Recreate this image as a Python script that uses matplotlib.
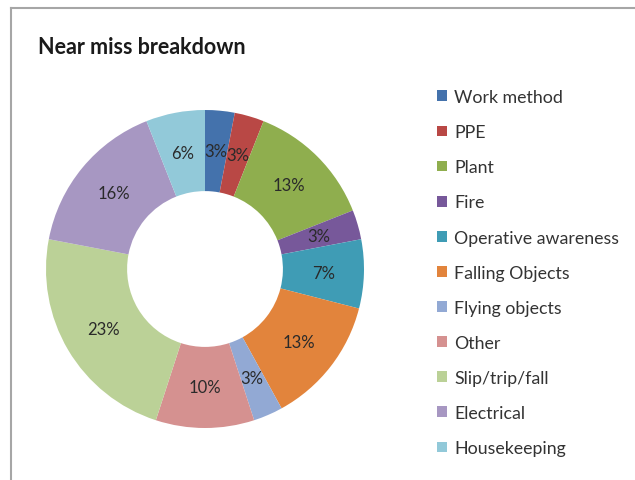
import matplotlib.pyplot as plt
from matplotlib.lines import Line2D
from matplotlib.patches import Patch

categories = ["Work method", "PPE", "Plant", "Fire", "Operative awareness",
              "Falling Objects", "Flying objects", "Other", "Slip/trip/fall",
              "Electrical", "Housekeeping"]
values = [3, 3, 13, 3, 7, 13, 3, 10, 23, 16, 6]
colors = ["#4472AC", "#B94845", "#8FAE4E", "#77589A", "#3F9CB5",
          "#E2843C", "#92A9D4", "#D59190", "#BBD197", "#A797C2", "#92C9D9"]

plt.rcParams["font.family"] = ["Lato", "DejaVu Sans"]

W, H = 635, 481
fig = plt.figure(figsize=(W / 100, H / 100), dpi=100)

# donut centred at (205, 270) px, outer radius ~159 px
cx, cy, r = 205, 270, 159
ax = fig.add_axes([(cx - r) / W, (H - cy - r) / H, 2 * r / W, 2 * r / H])
wedges, _, autotexts = ax.pie(
    values, colors=colors, startangle=90, counterclock=False,
    autopct=lambda p: f"{p:.0f}%", pctdistance=0.745,
    wedgeprops=dict(width=0.51, edgecolor="none"),
    textprops=dict(fontsize=12, color="#2a2a2a"))
ax.set_xlim(-1, 1)
ax.set_ylim(-1, 1)
ax.set_aspect("equal")
ax.axis("off")

fig.text(38 / W, 1 - 48 / H, "Near miss breakdown", fontsize=15.5,
         fontweight="bold", color="#1a1a1a", va="center", ha="left")

handles = [Patch(facecolor=c, edgecolor="none") for c in colors]
fig.legend(handles, categories, loc="upper left",
           bbox_to_anchor=(430 / W, 1 - 83 / H), frameon=False,
           fontsize=12.8, handlelength=0.55, handleheight=0.55,
           handletextpad=0.4, labelspacing=1.075, borderaxespad=0,
           labelcolor="#333333")

# chart frame (left and top edges visible)
fig.add_artist(Line2D([11 / W, 11 / W], [0, 1 - 9 / H], color="#a6a6a6", lw=1.5))
fig.add_artist(Line2D([11 / W, 1], [1 - 9 / H, 1 - 9 / H], color="#a6a6a6", lw=1.5))

fig.savefig("out.png", dpi=100)
